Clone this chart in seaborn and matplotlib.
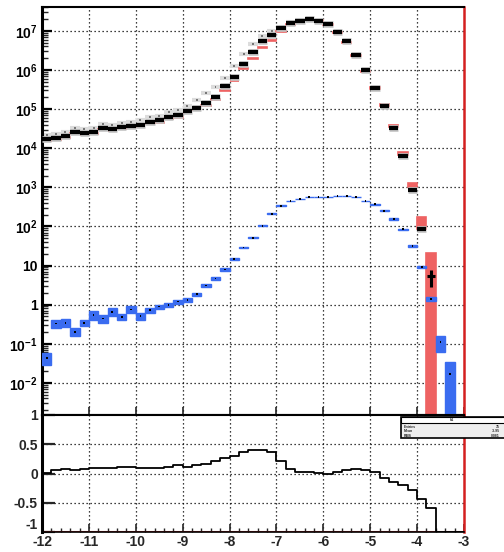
import numpy as np
import pandas as pd
import matplotlib
matplotlib.use("Agg")
import matplotlib.pyplot as plt
import seaborn as sns
from matplotlib.patches import Rectangle
from matplotlib.ticker import FixedLocator, NullFormatter, FixedFormatter

nan = np.nan

# ---- data (45 bins of width 0.2 from -12 to -3) ----
bin_low = [-12.0, -11.8, -11.6, -11.4, -11.2, -11.0, -10.8, -10.6, -10.4, -10.2,
           -10.0, -9.8, -9.6, -9.4, -9.2, -9.0, -8.8, -8.6, -8.4, -8.2,
           -8.0, -7.8, -7.6, -7.4, -7.2, -7.0, -6.8, -6.6, -6.4, -6.2,
           -6.0, -5.8, -5.6, -5.4, -5.2, -5.0, -4.8, -4.6, -4.4, -4.2,
           -4.0, -3.8, -3.6, -3.4, -3.2]
bin_width = 0.2

black_log10 = [4.24, 4.27, 4.32, 4.41, 4.38, 4.41, 4.51, 4.48, 4.54, 4.57,
               4.59, 4.67, 4.71, 4.80, 4.85, 4.95, 5.04, 5.16, 5.32, 5.58,
               5.83, 6.16, 6.45, 6.73, 6.90, 7.07, 7.20, 7.26, 7.31, 7.26,
               7.17, 6.98, 6.73, 6.39, 6.00, 5.55, 5.08, 4.51, 3.79, 2.92,
               1.93, 0.73, nan, nan, nan]
black_err = [0, 0, 0, 0, 0, 0, 0, 0, 0, 0,
             0, 0, 0, 0, 0, 0, 0, 0, 0, 0,
             0, 0, 0, 0, 0, 0, 0, 0, 0, 0,
             0, 0, 0, 0, 0, 0, 0, 0, 0, 0,
             10, 2.5, nan, nan, nan]

red_log10 = [4.20, 4.23, 4.27, 4.37, 4.34, 4.37, 4.47, 4.44, 4.50, 4.52,
             4.54, 4.62, 4.66, 4.76, 4.79, 4.90, 4.98, 5.09, 5.24, 5.48,
             5.72, 6.03, 6.30, 6.58, 6.75, 6.98, 7.17, 7.25, 7.30, 7.26,
             7.17, 6.96, 6.70, 6.36, 5.97, 5.54, 5.11, 4.57, 3.87, 3.06,
             2.12, 1.00, nan, nan, nan]
red_relerr = [0.02, 0.02, 0.02, 0.02, 0.02, 0.02, 0.02, 0.02, 0.02, 0.02,
              0.02, 0.02, 0.02, 0.02, 0.02, 0.02, 0.02, 0.02, 0.02, 0.02,
              0.02, 0.02, 0.02, 0.02, 0.02, 0.02, 0.02, 0.02, 0.02, 0.02,
              0.02, 0.02, 0.02, 0.03, 0.03, 0.04, 0.05, 0.06, 0.08, 0.10,
              0.35, 1.10, nan, nan, nan]

grey_log10 = [4.33, 4.37, 4.42, 4.51, 4.48, 4.52, 4.62, 4.59, 4.65, 4.68,
              4.71, 4.79, 4.83, 4.92, 4.97, 5.09, 5.24, 5.42, 5.56, 5.79,
              6.10, 6.41, 6.66, 6.86, 6.99, 7.10, 7.22, 7.27, 7.31, nan,
              nan, nan, nan, nan, nan, nan, nan, nan, nan, nan,
              nan, nan, nan, nan, nan]

blue_log10 = [-1.37, -0.48, -0.46, -0.69, -0.46, -0.26, -0.35, -0.18, -0.31, -0.12,
              -0.29, -0.14, -0.05, 0.00, 0.08, 0.12, 0.27, 0.49, 0.67, 0.90,
              1.17, 1.46, 1.71, 2.02, 2.32, 2.53, 2.65, 2.70, 2.75, 2.75,
              2.75, 2.78, 2.78, 2.75, 2.65, 2.57, 2.40, 2.19, 1.93, 1.50,
              0.97, 0.14, -0.95, -1.77, nan]
blue_err = [0.014, 0.08, 0.08, 0.05, 0.065, 0.15, 0.11, 0.14, 0.09, 0.16,
            0.10, 0.11, 0.11, 0.12, 0.14, 0.15, 0.17, 0.28, 0.33, 0.55,
            0.85, 1.0, 1.8, 3.5, 6, 8, 10, 11, 12, 12,
            12, 12, 12, 12, 10, 9, 7, 5, 3, 1.5,
            0.6, 0.15, 0.05, 0.018, nan]

ratio = [0.01, 0.06, 0.08, 0.06, 0.08, 0.09, 0.09, 0.09, 0.11, 0.11,
         0.09, 0.09, 0.09, 0.11, 0.14, 0.11, 0.14, 0.17, 0.21, 0.26,
         0.30, 0.36, 0.41, 0.41, 0.37, 0.22, 0.07, 0.03, 0.03, 0.01,
         0.00, 0.03, 0.06, 0.08, 0.06, 0.03, -0.07, -0.14, -0.20, -0.29,
         -0.44, -0.59, -1.0, -1.0, -1.0]

x_ticks = [-12, -11, -10, -9, -8, -7, -6, -5, -4, -3]
x_ticklabels = ["-12", "-11", "-10", "-9", "-8", "-7", "-6", "-5", "-4", "-3"]
y_exps = [-2, -1, 0, 1, 2, 3, 4, 5, 6, 7]
r_ticks = [-1, -0.5, 0, 0.5, 1]
r_ticklabels = ["-1", "-0.5", "0", "0.5", "1"]
stats_rows = [("Entries", "35"), ("Mean", "-3.95"), ("RMS", "0.081")]

# ---- frame ----
df = pd.DataFrame({
    "lo": bin_low,
    "center": np.array(bin_low) + bin_width / 2,
    "black": 10.0 ** np.array(black_log10),
    "black_err": black_err,
    "red": 10.0 ** np.array(red_log10),
    "red_relerr": red_relerr,
    "grey": 10.0 ** np.array(grey_log10),
    "blue": 10.0 ** np.array(blue_log10),
    "blue_err": blue_err,
    "ratio": ratio,
})

sns.set_theme(style="white")
plt.rcParams["font.family"] = ["Liberation Sans", "DejaVu Sans"]
plt.rcParams["font.weight"] = "bold"
plt.rcParams["mathtext.fontset"] = "custom"
plt.rcParams["mathtext.rm"] = "Liberation Sans:bold"
plt.rcParams["mathtext.bf"] = "Liberation Sans:bold"
plt.rcParams["mathtext.it"] = "Liberation Sans:bold"

W, H = 504, 552
fig = plt.figure(figsize=(W / 100, H / 100), dpi=100)
fig.patch.set_facecolor("white")
L, R = 42, 464
ax1 = fig.add_axes([L / W, 1 - 415 / H, (R - L) / W, (415 - 7) / H])
ax2 = fig.add_axes([L / W, 1 - 532 / H, (R - L) / W, (532 - 415) / H])

RED = "#ee6262"
BLUE = "#3a6cf0"
YMIN, YMAX = 10 ** -2.82, 10 ** 7.61

grid_kw = dict(color="black", linestyle=(0, (1, 2.2)), linewidth=0.9)

# ---- upper panel ----
ax1.set_yscale("log")
ax1.set_xlim(-12, -3)
ax1.set_ylim(YMIN, YMAX)
for e in y_exps:
    ax1.axhline(10.0 ** e, zorder=0.5, **grid_kw)
for x in x_ticks[1:-1]:
    ax1.axvline(x, zorder=0.5, **grid_kw)

# grey series
g = df.dropna(subset=["grey"])
ax1.hlines(g["grey"], g["lo"], g["lo"] + bin_width, color="#dcdcdc", lw=3.0, zorder=2)
sns.scatterplot(data=g, x="center", y="grey", ax=ax1, marker="s", s=2,
                color="#777777", edgecolor="none", zorder=2.1, legend=False)

# red series (error boxes)
rd = df.dropna(subset=["red"])
r_lo = np.clip(rd["red"] * (1 - rd["red_relerr"]), YMIN, None)
r_hi = rd["red"] * (1 + rd["red_relerr"])
ax1.bar(rd["lo"], r_hi - r_lo, bottom=r_lo, width=bin_width, align="edge",
        color=RED, edgecolor=RED, linewidth=1.2, zorder=2.5)

# blue series (error boxes)
bl = df.dropna(subset=["blue"])
b_lo = np.clip(bl["blue"] - bl["blue_err"], YMIN, None)
b_hi = bl["blue"] + bl["blue_err"]
ax1.bar(bl["lo"], b_hi - b_lo, bottom=b_lo, width=bin_width, align="edge",
        color=BLUE, edgecolor=BLUE, linewidth=1.0, zorder=3)
sns.scatterplot(data=bl, x="center", y="blue", ax=ax1, marker="s", s=1.5,
                color="black", edgecolor="none", zorder=3.1, legend=False)

# black data
bk = df.dropna(subset=["black"])
boxed = bk[bk["black"] > 50]
crossed = bk[bk["black"] <= 50]
ax1.hlines(boxed["black"], boxed["lo"], boxed["lo"] + bin_width,
           color="#c4c4c4", lw=4.8, zorder=3.5)
ax1.hlines(boxed["black"], boxed["lo"], boxed["lo"] + bin_width,
           color="black", lw=3.0, zorder=4)
ax1.errorbar(crossed["center"], crossed["black"], yerr=crossed["black_err"],
             xerr=0.08, fmt="none", ecolor="black", elinewidth=2.2, capsize=0, zorder=4)

ax1.yaxis.set_major_locator(FixedLocator([10.0 ** e for e in y_exps]))
ylabels = []
for e in y_exps:
    if e == 0:
        ylabels.append("1")
    elif e == 1:
        ylabels.append("10")
    else:
        ylabels.append(r"$10^{%d}$" % e)
ax1.yaxis.set_major_formatter(FixedFormatter(ylabels))
minors = [m * 10.0 ** e for e in range(-3, 8) for m in range(2, 10)]
ax1.yaxis.set_minor_locator(FixedLocator(minors))
ax1.yaxis.set_minor_formatter(NullFormatter())
ax1.xaxis.set_major_locator(FixedLocator(x_ticks))
ax1.set_xticklabels([])
ax1.tick_params(axis="y", which="major", direction="in", length=7, width=1.6,
                labelsize=10, pad=3, left=True, right=False, colors="black")
ax1.tick_params(axis="y", which="minor", direction="in", length=4, width=1.0,
                left=True, right=False)
ax1.tick_params(axis="x", which="major", direction="in", length=6, width=1.2,
                bottom=True, top=False)
for lab in ax1.get_yticklabels():
    lab.set_fontweight("bold")
for side in ["left", "top", "bottom"]:
    ax1.spines[side].set_color("black")
ax1.spines["left"].set_linewidth(2.2)
ax1.spines["top"].set_linewidth(1.5)
ax1.spines["bottom"].set_linewidth(1.5)
ax1.spines["right"].set_color("#d42020")
ax1.spines["right"].set_linewidth(1.8)
ax1.set_xlabel("")
ax1.set_ylabel("")

# ---- lower panel (ratio) ----
ax2.set_xlim(-12, -3)
ax2.set_ylim(-1, 1)
for yv in r_ticks[1:-1]:
    ax2.axhline(yv, zorder=0.5, **grid_kw)
for x in x_ticks[1:-1]:
    ax2.axvline(x, zorder=0.5, **grid_kw)
ax2.axhline(-1, color="#e03030", lw=2.2, zorder=1)

step = pd.DataFrame({"x": list(bin_low) + [-3.0], "r": list(ratio) + [ratio[-1]]})
sns.lineplot(data=step, x="x", y="r", ax=ax2, drawstyle="steps-post",
             color="black", lw=1.3, zorder=3, legend=False)

ax2.xaxis.set_major_locator(FixedLocator(x_ticks))
ax2.xaxis.set_major_formatter(FixedFormatter(x_ticklabels))
ax2.xaxis.set_minor_locator(FixedLocator(bin_low))
ax2.yaxis.set_major_locator(FixedLocator(r_ticks))
ax2.yaxis.set_major_formatter(FixedFormatter(r_ticklabels))
ax2.tick_params(axis="x", which="major", direction="in", length=6, width=1.2,
                labelsize=10, pad=2, bottom=True, top=False)
ax2.tick_params(axis="x", which="minor", direction="in", length=3, width=1.0,
                bottom=True, top=False)
ax2.tick_params(axis="y", which="major", direction="in", length=9, width=1.6,
                labelsize=10, pad=3, left=True, right=False)
for lab in ax2.get_xticklabels() + ax2.get_yticklabels():
    lab.set_fontweight("bold")
# keep the "-1" label just clear of the "-12" label below it
ax2.get_yticklabels()[0].set_verticalalignment("bottom")
ax2.spines["left"].set_color("black")
ax2.spines["left"].set_linewidth(2.2)
ax2.spines["top"].set_color("black")
ax2.spines["top"].set_linewidth(1.5)
ax2.spines["bottom"].set_color("black")
ax2.spines["bottom"].set_linewidth(1.2)
ax2.spines["right"].set_color("#d42020")
ax2.spines["right"].set_linewidth(1.8)
ax2.set_xlabel("")
ax2.set_ylabel("")

# ---- stats box (partially off the canvas) ----
bx0, by0, bx1, by1 = 401, 417, 512, 438
fig.patches.append(Rectangle((bx0 / W, 1 - by1 / H), (bx1 - bx0) / W, (by1 - by0) / H,
                             transform=fig.transFigure, facecolor="#eeeeee",
                             edgecolor="black", lw=1.2, zorder=10))
fig.patches.append(Rectangle((bx0 / W, 1 - 423 / H), (bx1 - bx0) / W, 6 / H,
                             transform=fig.transFigure, facecolor="white",
                             edgecolor="black", lw=0.8, zorder=10.5))
fig.text(452 / W, 1 - 420 / H, "h1", fontsize=2.5, ha="center", va="center", zorder=11)
for i, (k, v) in enumerate(stats_rows):
    yy = 1 - (427 + i * 4.5) / H
    fig.text(404 / W, yy, k, fontsize=2.5, ha="left", va="center", zorder=11)
    fig.text(500 / W, yy, v, fontsize=2.5, ha="right", va="center", zorder=11)

fig.savefig("out.png", dpi=100)
